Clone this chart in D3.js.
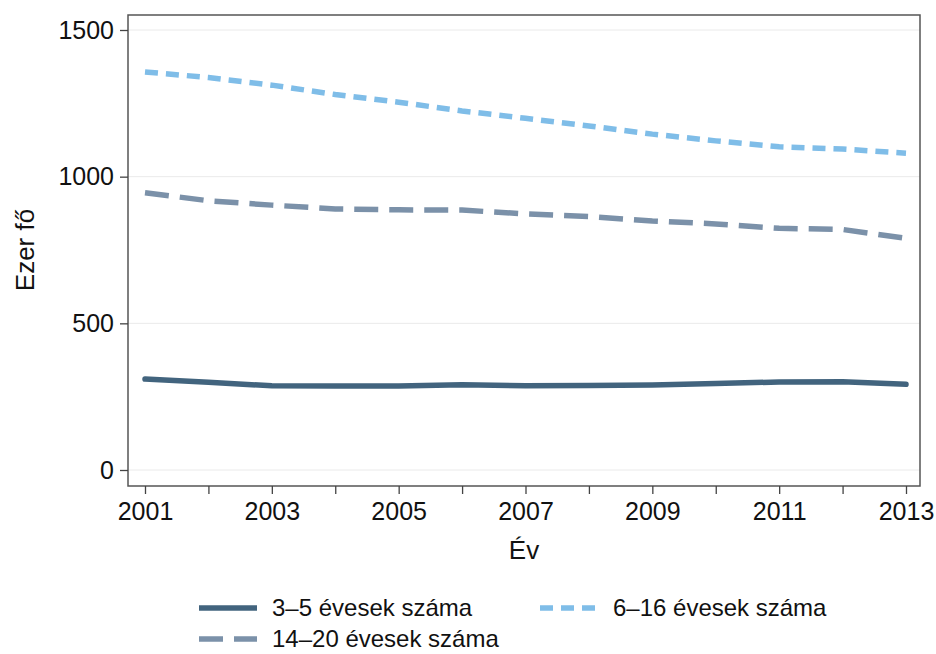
<!DOCTYPE html>
<html>
<head>
<meta charset="utf-8">
<script src="https://cdn.jsdelivr.net/npm/d3@7/dist/d3.min.js"></script>
<style>
  body { margin: 0; background: #fff; }
  svg { font-family: "Liberation Sans", Arial, sans-serif; }
</style>
</head>
<body>
<div id="chart"></div>
<script>
// Data (thousand persons)
const years = [2001, 2002, 2003, 2004, 2005, 2006, 2007, 2008, 2009, 2010, 2011, 2012, 2013];
const age3to5 = [310, 299, 287, 286, 286, 291, 287, 288, 290, 295, 300, 301, 292];
const age14to20 = [945, 918, 903, 890, 887, 886, 873, 864, 849, 839, 824, 820, 790];
const age6to16 = [1357, 1338, 1312, 1280, 1254, 1224, 1199, 1173, 1145, 1122, 1102, 1094, 1080];
const yTicks = [0, 500, 1000, 1500];
const xTickLabels = [2001, 2003, 2005, 2007, 2009, 2011, 2013];

const seriesList = [
  { name: '3–5 évesek száma', values: age3to5, color: '#42647e', dash: null },
  { name: '14–20 évesek száma', values: age14to20, color: '#7b91a9', dash: '24,11' },
  { name: '6–16 évesek száma', values: age6to16, color: '#7fbde8', dash: '13,8' }
];

const width = 936;
const height = 654;
const margin = { top: 15, right: 16, bottom: 168, left: 128 };
const graphWidth = width - margin.left - margin.right;
const graphHeight = height - margin.top - margin.bottom;

const svg = d3.select('#chart')
  .append('svg')
  .attr('width', width)
  .attr('height', height);

const g = svg.append('g')
  .attr('transform', `translate(${margin.left},${margin.top})`);

// Scales
const xScale = d3.scaleLinear()
  .domain([2001, 2013])
  .range([17, graphWidth - 14]);

const yScale = d3.scaleLinear()
  .domain([0, 1500])
  .range([455, 15]);

// Grid lines
g.append('g')
  .selectAll('line')
  .data(yTicks)
  .enter()
  .append('line')
  .attr('x1', 0)
  .attr('x2', graphWidth)
  .attr('y1', d => yScale(d))
  .attr('y2', d => yScale(d))
  .attr('stroke', '#eaeaea')
  .attr('stroke-width', 1);

// Lines
const line = d3.line()
  .x((d, i) => xScale(years[i]))
  .y(d => yScale(d));

g.selectAll('.series')
  .data(seriesList)
  .enter()
  .append('path')
  .attr('class', 'series')
  .attr('d', d => line(d.values))
  .attr('fill', 'none')
  .attr('stroke', d => d.color)
  .attr('stroke-width', 5.5)
  .attr('stroke-linecap', d => d.dash ? 'butt' : 'round')
  .attr('stroke-dasharray', d => d.dash);

// Frame
g.append('rect')
  .attr('width', graphWidth)
  .attr('height', graphHeight)
  .attr('fill', 'none')
  .attr('stroke', '#555')
  .attr('stroke-width', 1.5);

// Axes
const yAxis = g.append('g')
  .call(d3.axisLeft(yScale).tickValues(yTicks).tickSize(8).tickSizeOuter(0).tickPadding(6)
    .tickFormat(d3.format('d')));
yAxis.select('.domain').remove();
yAxis.selectAll('line').attr('stroke', '#444').attr('stroke-width', 1.3);
yAxis.selectAll('text').style('font-size', '25px').attr('fill', '#111');

const xAxis = g.append('g')
  .attr('transform', `translate(0,${graphHeight})`)
  .call(d3.axisBottom(xScale).tickValues(years).tickSize(8).tickSizeOuter(0).tickPadding(8)
    .tickFormat(d => xTickLabels.includes(d) ? d : ''));
xAxis.select('.domain').remove();
xAxis.selectAll('line').attr('stroke', '#444').attr('stroke-width', 1.3);
xAxis.selectAll('text').style('font-size', '25px').attr('fill', '#111');

// Axis titles
svg.append('text')
  .attr('transform', `translate(34,${margin.top + 235}) rotate(-90)`)
  .attr('text-anchor', 'middle')
  .style('font-size', '26px')
  .attr('fill', '#111')
  .text('Ezer fő');

svg.append('text')
  .attr('x', margin.left + graphWidth / 2)
  .attr('y', 559)
  .attr('text-anchor', 'middle')
  .style('font-size', '26px')
  .attr('fill', '#111')
  .text('Év');

// Legend
const legendPos = [
  { x: 199, y: 608 },
  { x: 199, y: 639 },
  { x: 540, y: 608 }
];

const legend = svg.selectAll('.legend')
  .data(seriesList)
  .enter()
  .append('g')
  .attr('class', 'legend')
  .attr('transform', (d, i) => `translate(${legendPos[i].x},${legendPos[i].y})`);

legend.append('line')
  .attr('x1', 0)
  .attr('x2', 58)
  .attr('stroke', d => d.color)
  .attr('stroke-width', 5.5)
  .attr('stroke-dasharray', d => d.dash);

legend.append('text')
  .attr('x', 73)
  .attr('dy', '0.35em')
  .style('font-size', '24px')
  .attr('fill', '#111')
  .text(d => d.name);
</script>
</body>
</html>
